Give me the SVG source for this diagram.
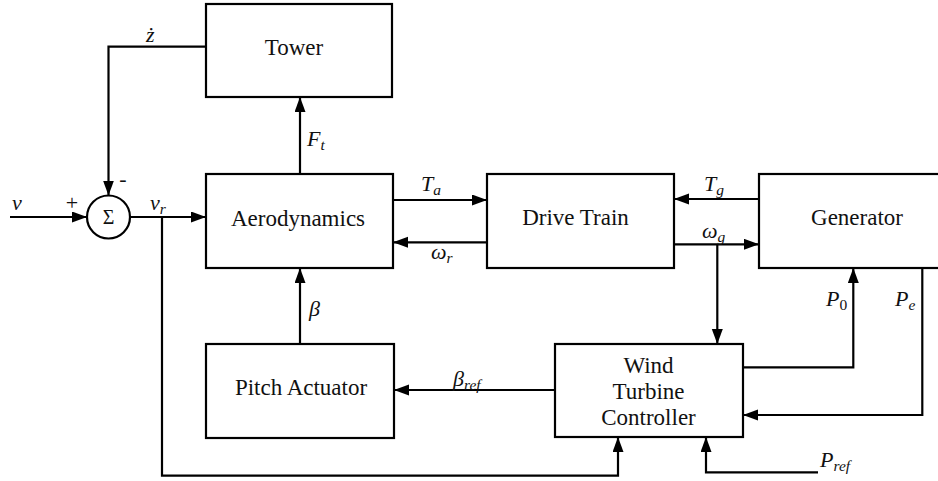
<svg xmlns="http://www.w3.org/2000/svg" width="938" height="481" viewBox="0 0 938 481">
<style>
.box{fill:#fff;stroke:#000;stroke-width:2.2}
.ln{fill:none;stroke:#000;stroke-width:2.2}
text{font-family:'Liberation Serif','Times New Roman',serif;fill:#111}
.t{font-size:23px;text-anchor:middle}
.m{font-style:italic;font-size:22px}
.s{font-size:15.5px}
.r{font-style:normal;font-size:15.5px}
</style>
<defs>
<marker id="ah" markerUnits="userSpaceOnUse" markerWidth="16" markerHeight="12" refX="15" refY="5.5" orient="auto">
<path d="M0,0 L15,5.5 L0,11 Z" fill="#000"/>
</marker>
</defs>
<rect width="938" height="481" fill="#fff"/>
<g id="connectors">
<path class="ln" d="M10,217 L87,217" marker-end="url(#ah)"/>
<path class="ln" d="M206,46.7 L108.5,46.7 L108.5,195.5" marker-end="url(#ah)"/>
<path class="ln" d="M130,217 L206,217" marker-end="url(#ah)"/>
<path class="ln" d="M162,217 L162,475.7 L618,475.7 L618,437" marker-end="url(#ah)"/>
<path class="ln" d="M300,174 L300,97" marker-end="url(#ah)"/>
<path class="ln" d="M393,200 L487,200" marker-end="url(#ah)"/>
<path class="ln" d="M487,242.3 L393,242.3" marker-end="url(#ah)"/>
<path class="ln" d="M759,199 L674,199" marker-end="url(#ah)"/>
<path class="ln" d="M674,244.3 L759,244.3" marker-end="url(#ah)"/>
<path class="ln" d="M717.3,244.3 L717.3,344" marker-end="url(#ah)"/>
<path class="ln" d="M743,367.3 L853.3,367.3 L853.3,268" marker-end="url(#ah)"/>
<path class="ln" d="M922.3,268 L922.3,415 L743,415" marker-end="url(#ah)"/>
<path class="ln" d="M818,472.3 L706,472.3 L706,437" marker-end="url(#ah)"/>
<path class="ln" d="M300,344 L300,268" marker-end="url(#ah)"/>
<path class="ln" d="M555,390 L394,390" marker-end="url(#ah)"/>
<text class="m" x="12" y="210">v</text>
<text class="m" x="146" y="42">ż</text>
<text class="m" x="150" y="210">v<tspan class="s" dy="4">r</tspan></text>
<text class="m" x="307" y="146">F<tspan class="s" dy="4">t</tspan></text>
<text class="m" x="421" y="191">T<tspan class="s" dy="4">a</tspan></text>
<text class="m" x="431" y="259">ω<tspan class="s" dy="4">r</tspan></text>
<text class="m" x="704" y="191">T<tspan class="s" dy="4">g</tspan></text>
<text class="m" x="702" y="238">ω<tspan class="s" dy="4">g</tspan></text>
<text class="m" x="826" y="306">P<tspan class="r" dy="4">0</tspan></text>
<text class="m" x="895" y="306">P<tspan class="s" dy="4">e</tspan></text>
<text class="m" x="820" y="467">P<tspan class="s" dy="4">ref</tspan></text>
<text class="m" x="309" y="316">β</text>
<text class="m" x="453" y="386">β<tspan class="s" dy="4">ref</tspan></text>
<text class="t" x="72" y="210" style="font-size:22px">+</text>
<text class="t" x="123" y="186" style="font-size:22px">-</text>
</g>
<g id="sum">
<circle cx="108.5" cy="217" r="21.5" fill="#fff" stroke="#000" stroke-width="2.2"/>
<text class="t" x="108.5" y="224" style="font-size:20px">Σ</text>
</g>
<g id="tower">
<rect class="box" x="206" y="4" width="186" height="93"/>
<text class="t" x="294" y="55">Tower</text>
</g>
<g id="aerodynamics">
<rect class="box" x="206" y="174" width="187" height="94"/>
<text class="t" x="298" y="226">Aerodynamics</text>
</g>
<g id="drive-train">
<rect class="box" x="487" y="174" width="187" height="94"/>
<text class="t" x="575.5" y="225">Drive Train</text>
</g>
<g id="generator">
<rect class="box" x="759" y="174" width="200" height="94"/>
<text class="t" x="857" y="225">Generator</text>
</g>
<g id="controller">
<rect class="box" x="555" y="344" width="188" height="93"/>
<text class="t" x="648.5" y="373">Wind</text>
<text class="t" x="648.5" y="399">Turbine</text>
<text class="t" x="648.5" y="425">Controller</text>
</g>
<g id="pitch-actuator">
<rect class="box" x="206" y="344" width="188" height="94"/>
<text class="t" x="301" y="395">Pitch Actuator</text>
</g>
</svg>
